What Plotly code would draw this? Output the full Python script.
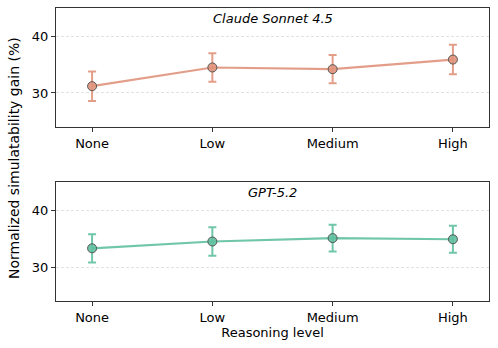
import plotly.graph_objects as go

# reasoning levels on the x axis
levels = ["None", "Low", "Medium", "High"]

# Claude Sonnet 4.5
claude_gain = [31.2, 34.5, 34.2, 35.9]
claude_err = [2.6, 2.5, 2.5, 2.6]

# GPT-5.2
gpt_gain = [33.3, 34.5, 35.1, 34.9]
gpt_err = [2.5, 2.5, 2.35, 2.4]

panels = [
    ("Claude Sonnet 4.5", claude_gain, claude_err, "rgba(224,148,124,0.9)", "x", "y"),
    ("GPT-5.2", gpt_gain, gpt_err, "rgba(96,192,160,0.9)", "x2", "y2"),
]

FONT = "DejaVu Sans"

fig = go.Figure()

for name, vals, errs, col, xa, ya in panels:
    fig.add_trace(go.Scatter(
        x=list(range(len(levels))), y=vals,
        mode="lines+markers",
        line=dict(color=col, width=2.2),
        marker=dict(size=9, color=col, line=dict(color="#555555", width=1)),
        error_y=dict(type="data", array=errs, color=col, thickness=2, width=4),
        xaxis=xa, yaxis=ya, showlegend=False, name=name,
        hoverinfo="skip",
    ))
    fig.add_annotation(
        text="<i>%s</i>" % name, x=0.5, y=1, xref=xa + " domain", yref=ya + " domain",
        xanchor="center", yanchor="top", yshift=-1, showarrow=False,
        font=dict(family=FONT, size=13, color="black"),
    )

axis_common = dict(
    showline=True, linecolor="#333333", linewidth=1, mirror=True,
    ticks="outside", ticklen=4, tickcolor="#333333",
    tickfont=dict(family=FONT, size=13, color="black"),
    zeroline=False, automargin=False,
)

xkw = dict(axis_common, range=[-0.3, 3.3], tickvals=list(range(len(levels))),
           ticktext=levels, showgrid=False)
ykw = dict(axis_common, range=[24, 45], tickvals=[30, 40], showgrid=True,
           gridcolor="#e2e2e2", griddash="3px,2px", gridwidth=0.8)

fig.update_layout(
    width=498, height=348,
    margin=dict(l=56, r=9, t=8, b=47),
    plot_bgcolor="white", paper_bgcolor="white",
    xaxis=dict(xkw, domain=[0, 1], anchor="y"),
    yaxis=dict(ykw, domain=[0.594, 1.0], anchor="x"),
    xaxis2=dict(xkw, domain=[0, 1], anchor="y2",
                title=dict(text="Reasoning level", standoff=4,
                           font=dict(family=FONT, size=13, color="black"))),
    yaxis2=dict(ykw, domain=[0.0, 0.406], anchor="x2"),
)

# shared y label, placed in pixel terms relative to the plot area
fig.add_annotation(
    text="Normalized simulatability gain (%)", textangle=-90,
    x=(14 - 56) / 433, y=(301 - 158) / 293, xref="paper", yref="paper",
    xanchor="center", yanchor="middle", showarrow=False,
    font=dict(family=FONT, size=14, color="black"),
)

# drop the default page margin so the figure sits at the window corner
fig.write_html("out.html", config={"displayModeBar": False},
               post_script="document.body.style.margin='0';")
